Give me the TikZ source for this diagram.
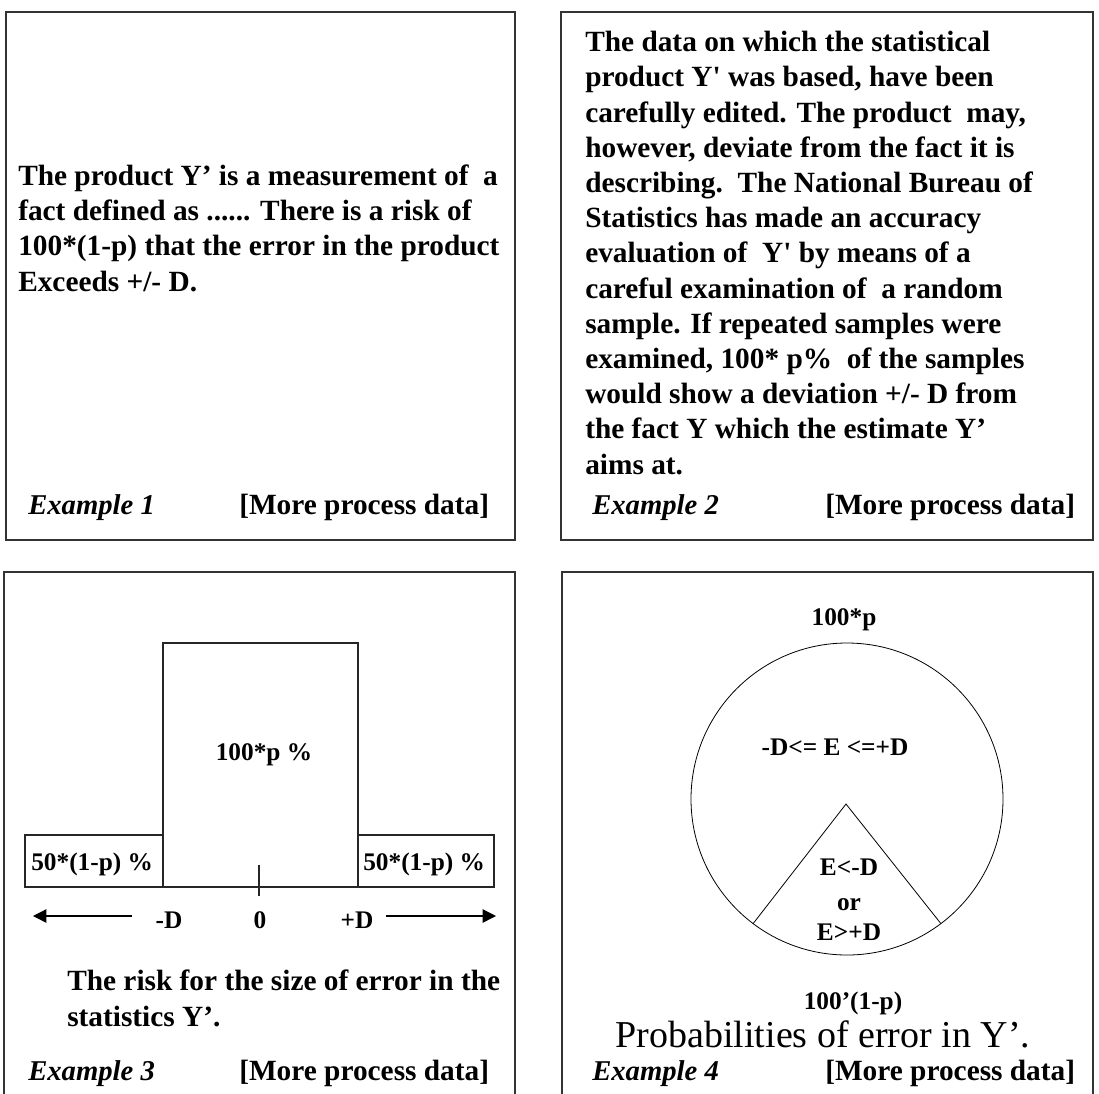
\documentclass[tikz,border=0pt]{standalone}
\usepackage{fontspec}
\setmainfont{Liberation Serif}
\usetikzlibrary{arrows.meta}

\tikzset{
  panel/.style={draw=black!80, line width=1pt},
  bar/.style={draw=black!85, line width=1pt},
  bodytext/.style={font=\bfseries\fontsize{22}{26.4}\selectfont, align=left, inner sep=0pt, anchor=base west},
  chartlbl/.style={font=\bfseries\fontsize{19}{23}\selectfont, inner sep=0pt, anchor=base},
  exlbl/.style={font=\bfseries\itshape\fontsize{21.5}{26}\selectfont, inner sep=0pt, anchor=base west},
  morelbl/.style={font=\bfseries\fontsize{22}{26}\selectfont, inner sep=0pt, anchor=base west},
}

\begin{document}
\begin{tikzpicture}[x=0.75pt, y=-0.75pt]
    \clip (0,0) rectangle (1099,1093);
    % Panel frames
    \draw[panel] (6,12) rectangle (515,540);
    \draw[panel] (561,12) rectangle (1093,540);
    \draw[panel] (4,572) rectangle (515,1110);
    \draw[panel] (562,572) rectangle (1093,1110);

    % Example 1 (base = last line)
    \node[bodytext] (txtone) at (18,291) {The product Y’ is a measurement of\ \ a\\
      fact defined as ...... There is a risk of\\
      100*(1-p) that the error in the product\\
      Exceeds +/-\ D.};
    \node[exlbl] (exone) at (28,514) {Example 1};
    \node[morelbl] (moreone) at (239,514) {[More process data]};

    % Example 2
    \node[bodytext] (txttwo) at (585,474) {The data on which the statistical\\
      product Y\textquotesingle{} was based, have been\\
      carefully edited. The product\ \ may,\\
      however, deviate from the fact it is\\
      describing.\ \ The National Bureau of\\
      Statistics has made an accuracy\\
      evaluation of\ \ Y\textquotesingle{} by means of a\\
      careful examination of\ \ a random\\
      sample. If repeated samples were\\
      examined, 100* p\%\ \ of the samples\\
      would show a deviation +/- D from\\
      the fact Y which the estimate Y’\\
      aims at.};
    \node[exlbl] (extwo) at (592,514) {Example 2};
    \node[morelbl] (moretwo) at (825,514) {[More process data]};

    % Example 3: bars
    \draw[bar] (163,887) rectangle (358,643);
    \draw[bar] (25,887) rectangle (163,835);
    \draw[bar] (358,887) rectangle (494,835);
    \draw[bar] (259,865) -- (259,896);
    \node[chartlbl] (inner) at (264,760) {100*p \%};
    \node[chartlbl, anchor=base west] (tailleft) at (31,870) {50*(1-p) \%};
    \node[chartlbl, anchor=base west] (tailright) at (363,870) {50*(1-p) \%};
    \node[chartlbl] (minusd) at (169,928) {-D};
    \node[chartlbl] (zero) at (260,928) {0};
    \node[chartlbl] (plusd) at (357,928) {+D};
    \coordinate (lstart) at (132,916);
    \coordinate (lend) at (33,916);
    \coordinate (rstart) at (386,916);
    \coordinate (rend) at (496,916);
    \draw[line width=1pt, -{Triangle[length=10pt,width=10pt]}] (lstart) -- (lend);
    \draw[line width=1pt, -{Triangle[length=10pt,width=10pt]}] (rstart) -- (rend);
    \node[bodytext] (txtthree) at (67,1026) {The risk for the size of error in the\\
      statistics Y’.};
    \node[exlbl] (exthree) at (28,1080) {Example 3};
    \node[morelbl] (morethree) at (239,1080) {[More process data]};

    % Example 4: pie
    \node[circle, draw, line width=0.6pt, minimum size=234pt, inner sep=0pt, outer sep=0pt] (pie) at (847,799) {};
    \coordinate (apex) at (846,804);
    \draw[line width=0.6pt] (pie.233) -- (apex) -- (pie.307);
    \node[chartlbl] (ptop) at (844,625) {100*p};
    \node[chartlbl] (within) at (835,755) {-D<= E <=+D};
    \node[chartlbl] (below) at (849,875) {E<-D};
    \node[chartlbl] (ortxt) at (849,910) {or};
    \node[chartlbl] (above) at (849,940) {E>+D};
    \node[chartlbl] (pbottom) at (853,1009) {100’(1-p)};
    \node[font=\fontsize{28.5}{32}\selectfont, inner sep=0pt, anchor=base] (caption) at (823,1047) {Probabilities of error in Y’.};
    \node[exlbl] (exfour) at (592,1080) {Example 4};
    \node[morelbl] (morefour) at (825,1080) {[More process data]};
\end{tikzpicture}
\end{document}
